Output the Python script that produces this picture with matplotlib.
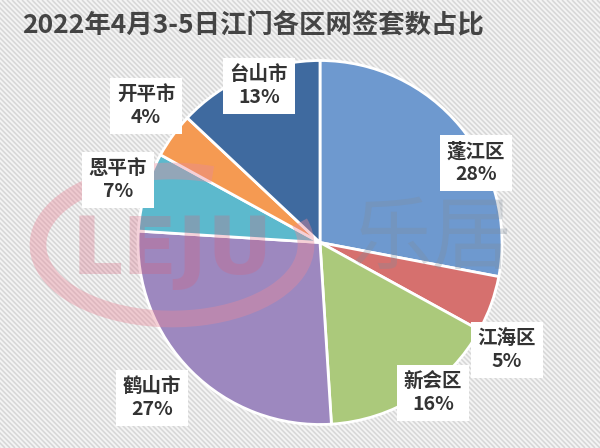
import matplotlib
matplotlib.use("Agg")
import matplotlib.pyplot as plt
from matplotlib.patches import Arc
from matplotlib.collections import LineCollection

plt.rcParams['font.family'] = ['Noto Sans CJK SC', 'DejaVu Sans']

title = "2022年4月3-5日江门各区网签套数占比"
districts = ["蓬江区", "江海区", "新会区", "鹤山市", "恩平市", "开平市", "台山市"]
shares = [28, 5, 16, 27, 7, 4, 13]
colors = ["#6e99cf", "#d6706e", "#abc97b", "#9d88bf", "#5cb9cd", "#f59a52", "#3f6a9f"]
# label centres in pixel coordinates (x from left, y from top)
label_pos = [(476, 163), (507, 350), (433, 393), (152, 398), (118, 180), (146, 106), (259, 86)]

W, H = 600, 448
fig = plt.figure(figsize=(6, 4.48), dpi=100)
fig.patch.set_facecolor("#f4f4f4")
ax = fig.add_axes([0, 0, 1, 1])
ax.set_facecolor("#f4f4f4")

# striped background (diagonal, top-left to bottom-right)
segs = []
for x0 in range(-H, W + 5, 5):
    segs.append([(x0, H), (x0 + H, 0)])
ax.add_collection(LineCollection(segs, colors="#d6d6d6", linewidths=1.1, zorder=0))

cx, cy, r = 320, H - 242.5, 182
wedges, _ = ax.pie(shares, colors=colors, startangle=90, counterclock=False,
                   center=(cx, cy), radius=r, frame=True,
                   wedgeprops=dict(edgecolor="white", linewidth=2))
for w in wedges:
    w.set_zorder(2)
ax.set_xlim(0, W)
ax.set_ylim(0, H)
ax.set_aspect("equal")
ax.axis("off")

# watermark
ax.add_patch(Arc((172, H - 245), 268, 148, theta1=60, theta2=370, edgecolor="#e88a9a",
                 linewidth=12, alpha=0.4, zorder=3))
ax.text(172, H - 252, "LEJU", fontsize=58, fontweight="bold", color="#d9607a",
        alpha=0.28, ha="center", va="center", zorder=3, family="DejaVu Sans")
ax.text(432, H - 240, "乐居", fontsize=58, color="#7f8c9a", alpha=0.3,
        ha="center", va="center", zorder=3)

for name, v, (x, y) in zip(districts, shares, label_pos):
    ax.text(x, H - y, f"{name}\n{v}%", ha="center", va="center", fontsize=14,
            fontweight="bold", color="#333333", linespacing=1.25, zorder=5,
            bbox=dict(boxstyle="square,pad=0.35", facecolor="white", edgecolor="none"))

fig.text(22 / W, 1 - 25 / H, title, ha="left", va="center", fontsize=19,
         fontweight="bold", color="#444444")

fig.savefig("out.png", dpi=100, facecolor=fig.get_facecolor())
